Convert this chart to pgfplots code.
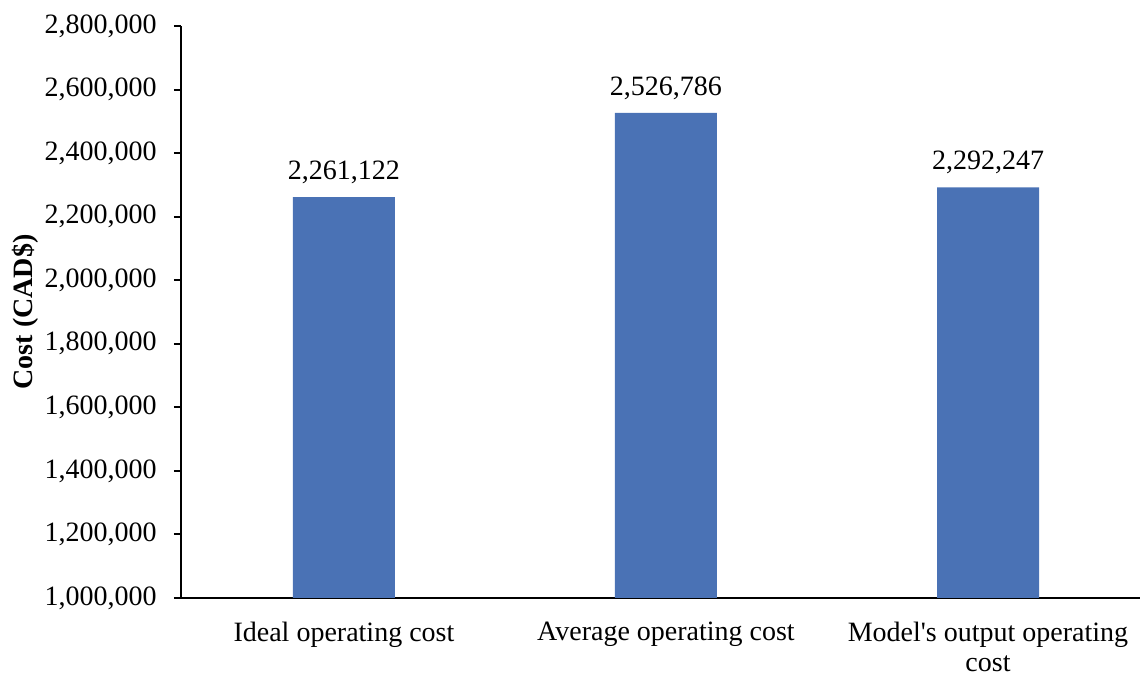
\documentclass[border=0pt]{standalone}
\usepackage{fontspec}
\setmainfont{Liberation Serif}
\usepackage{pgfplots}
\pgfplotsset{compat=1.18}
\definecolor{barblue}{RGB}{74,114,181}
\begin{document}
\begin{tikzpicture}
\begin{axis}[
  name=ax,
  scale only axis,
  width=479.5pt, height=286pt,
  font=\fontsize{14}{16.5}\selectfont,
  xmin=-0.506, xmax=2.472,
  ymin=1000000, ymax=2800000,
  ytick distance=200000,
  scaled y ticks=false,
  /pgf/number format/.cd, fixed, 1000 sep={,}, assume math mode=true,
  /pgfplots/.cd,
  axis x line*=bottom, axis y line*=left,
  axis line style={line width=1.1pt, black},
  xtick={0,1,2},
  xticklabels={Ideal operating cost, Average operating cost, {Model\textquotesingle s output operating\\cost}},
  xtick style={draw=none},
  ytick style={line width=1pt, black},
  tick align=outside,
  major tick length=3.5pt,
  xticklabel style={anchor=north, inner sep=0pt, yshift=-8.3pt, align=center, font=\fontsize{14}{14.8}\selectfont},
  yticklabel style={anchor=east, inner sep=0pt, xshift=-8.5pt},
  every axis y label/.style={at={(axis description cs:-0.1627,0.5)}, rotate=90, anchor=center, font=\fontsize{14}{16}\selectfont\bfseries},
  ylabel={Cost (CAD\$)},
  ybar, bar width=51pt,
  point meta=explicit symbolic,
  nodes near coords,
  every node near coord/.append style={font=\fontsize{14}{16}\selectfont, yshift=3pt, black},
]
\addplot[fill=barblue, draw=none] coordinates {
  (0,2261122) [2,261,122]
  (1,2526786) [2,526,786]
  (2,2292247) [2,292,247]
};
\end{axis}
\pgfresetboundingbox
\path[use as bounding box] ([shift={(-90.5pt,-37.5pt)}]ax.south west) rectangle ([shift={(479.5pt,299pt)}]ax.south west);
\end{tikzpicture}
\end{document}
